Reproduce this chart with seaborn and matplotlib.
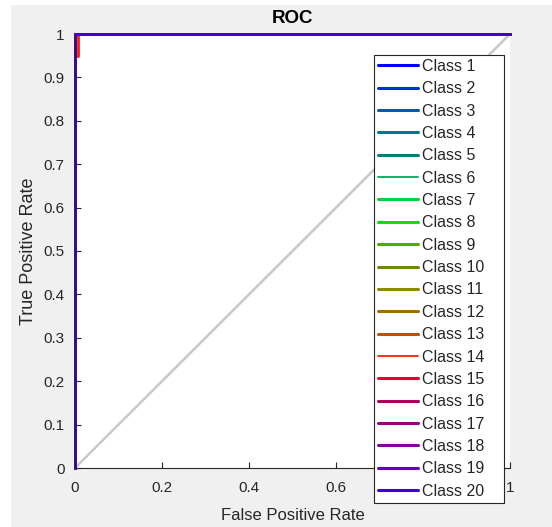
import numpy as np
import pandas as pd
import seaborn as sns
import matplotlib.pyplot as plt
from matplotlib.patches import Rectangle

sns.set_theme(style="white")
plt.rcParams['font.family'] = ['Liberation Sans', 'DejaVu Sans']

# ROC points per class (fpr, tpr)
classes = ['Class %d' % i for i in range(1, 21)]
fpr_perfect = [0, 0, 1]
tpr_perfect = [0, 1, 1]
fpr_class14 = [0, 0, 0.006, 0.006, 1]
tpr_class14 = [0, 0.95, 0.95, 1, 1]
diag_x = [0, 1]
diag_y = [0, 1]
# the 0.8 label sits under the legend in the reference, so it is left blank
x_ticklabels = ['0', '0.2', '0.4', '0.6', '', '1']

class_colors = ['#0000ff', '#0032d2', '#005aaa', '#00788c', '#00826e', '#00aa5a',
                '#00d23c', '#00e600', '#50aa00', '#6e8c00', '#8c8c00', '#a06e00',
                '#be5000', '#ff1e00', '#e60032', '#aa005a', '#960082', '#8200a0',
                '#6400be', '#3c00dc']

rows = []
for c in classes:
    if c == 'Class 14':
        xs, ys = fpr_class14, tpr_class14
    else:
        xs, ys = fpr_perfect, tpr_perfect
    for k, (x, y) in enumerate(zip(xs, ys)):
        rows.append({'Class': c, 'order': k, 'FPR': x, 'TPR': y})
df = pd.DataFrame(rows)

fig = plt.figure(figsize=(5.52, 5.27), dpi=100, facecolor='white')
fig.patches.append(Rectangle((11 / 552, 0), 1, 522 / 527, transform=fig.transFigure,
                             facecolor='#f0f0f0', edgecolor='none', zorder=-10))
ax = fig.add_axes([75 / 552, 59 / 527, 435 / 552, 434 / 527])
ax.set_facecolor('white')

ax.plot(diag_x, diag_y, color='#c8c8c8', lw=1.8, zorder=1)
sns.lineplot(data=df, x='FPR', y='TPR', hue='Class', hue_order=classes,
             palette=class_colors, sort=False, estimator=None, units='Class',
             lw=2.0, ax=ax, legend=True, zorder=2)

for line in ax.lines[1:]:
    line.set_clip_on(False)

ax.set_xlim(0, 1)
ax.set_ylim(0, 1)
ax.set_xticks(np.arange(0, 1.01, 0.2))
ax.set_xticklabels(x_ticklabels)
ax.set_yticks(np.arange(0, 1.01, 0.1))
ax.set_yticklabels(['0'] + ['%.1f' % v for v in np.arange(0.1, 1.0, 0.1)] + ['1'])
ax.tick_params(direction='in', length=4, width=0.8, colors='#262626',
               labelsize=11, bottom=True, left=True)
ax.tick_params(axis='x', pad=9)
ax.tick_params(axis='y', pad=7.5)
for s in ['top', 'right']:
    ax.spines[s].set_visible(False)
for s in ['left', 'bottom']:
    ax.spines[s].set_color('#262626')
    ax.spines[s].set_linewidth(0.8)

ax.set_xlabel('False Positive Rate', fontsize=12, color='#262626', labelpad=10)
ax.set_ylabel('True Positive Rate', fontsize=13, color='#262626', labelpad=5)
ax.set_title('ROC', fontsize=13.5, fontweight='bold', color='#000000', pad=8)

handles, labels = ax.get_legend_handles_labels()
for h, l in zip(handles, labels):
    h.set_linewidth(1.3 if l in ('Class 6', 'Class 14') else 2.2)
leg = ax.legend(handles, labels, loc='upper left', mode='expand',
                bbox_to_anchor=(374 / 552, 33 / 527, 130 / 552, 439 / 527),
                bbox_transform=fig.transFigure,
                fontsize=11.5, frameon=True, fancybox=False, framealpha=1,
                edgecolor='#262626', handlelength=2.5, handletextpad=0.25,
                labelspacing=0.46, borderpad=0.25, borderaxespad=0)
leg.get_frame().set_linewidth(0.8)
for t in leg.get_texts():
    t.set_color('#262626')
leg.set_zorder(5)

fig.savefig('out.png', dpi=100, facecolor=fig.get_facecolor())
